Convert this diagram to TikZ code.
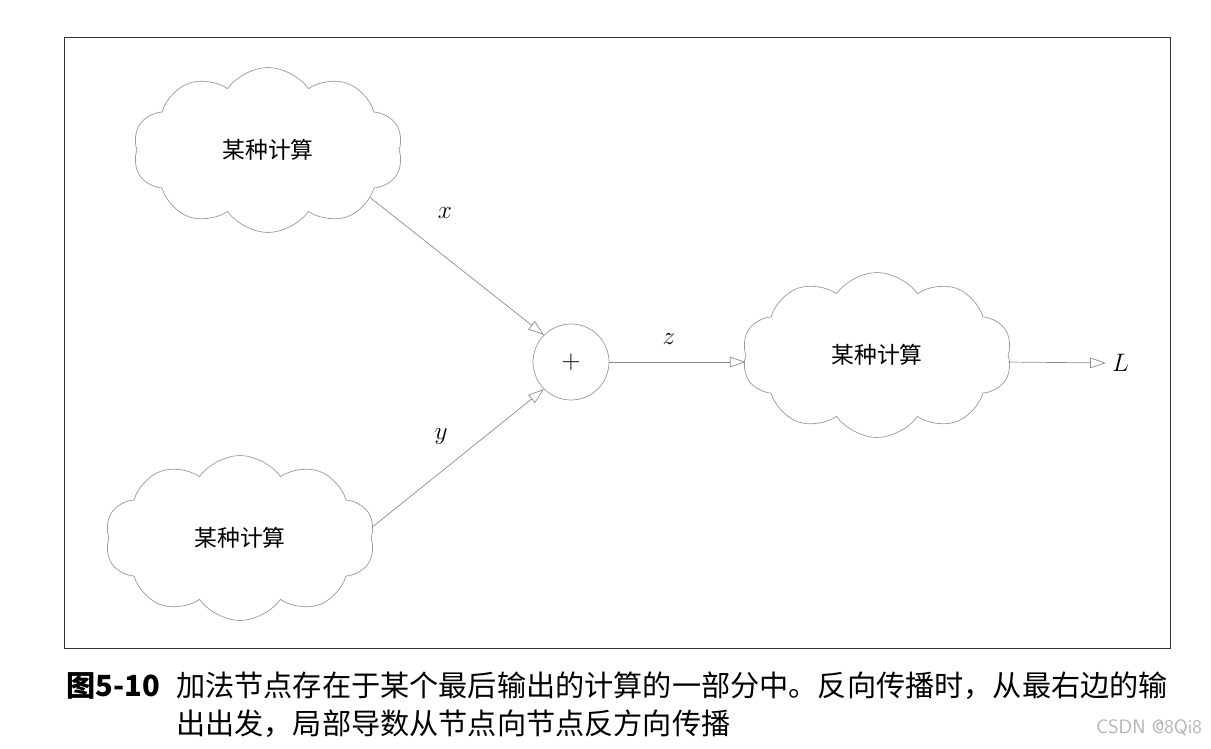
\documentclass[tikz,border=0pt]{standalone}
\usepackage{fontspec}
\newfontfamily\cjk{Noto Sans CJK SC}
\usetikzlibrary{shapes.symbols,arrows.meta}
\tikzset{calc cloud/.style={draw=gray!80, cloud, cloud puffs=10, cloud puff arc=110, aspect=1.6, minimum width=5.4cm, minimum height=3.3cm, font=\cjk\fontsize{13}{15}\selectfont},
  link/.style={draw=gray!90, -{Triangle[open,length=9pt,width=6pt]}},
  lab/.style={font=\fontsize{15}{17}\selectfont}}

\begin{document}
\begin{tikzpicture}[x=0.02cm,y=-0.02cm]
\useasboundingbox (0,0) rectangle (1211,748);
\draw[black!80] (64,37) rectangle (1170,648);

\node[calc cloud] (c1) at (268,150) {某种计算};
\node[calc cloud] (c2) at (240,538) {某种计算};
\node[calc cloud] (c3) at (877,355) {某种计算};
\node[draw=gray!80, circle, minimum size=1.52cm, font=\fontsize{14}{16}\selectfont] (add) at (571,362) {$+$};
\node[lab, anchor=west] (out) at (1106,363) {$L$};

\draw[link] (c1.-25) -- (add.north west);
\draw[link] (c2.5) -- (add.south west);
\draw[link] (add.east) -- (add.east -| c3.west);
\draw[link] (add.east -| c3.east) -- (out.west);

\node[lab] (lx) at (445,213) {$x$};
\node[lab] (ly) at (441,437) {$y$};
\node[lab] (lz) at (669,339) {$z$};

\node[anchor=west, font=\cjk\bfseries\fontsize{16.6}{18}\selectfont] (num) at (60,686) {图5-10};
\node[anchor=west, font=\cjk\fontsize{16.6}{18}\selectfont] (cap1) at (170,686) {加法节点存在于某个最后输出的计算的一部分中。反向传播时，从最右边的输};
\node[anchor=west, font=\cjk\fontsize{16.6}{18}\selectfont] (cap2) at (170,724) {出出发，局部导数从节点向节点反方向传播};
\node[anchor=east, text=gray!60, font=\sffamily\fontsize{11}{13}\selectfont] (mark) at (1208,728) {CSDN @8Qi8};
\end{tikzpicture}
\end{document}
